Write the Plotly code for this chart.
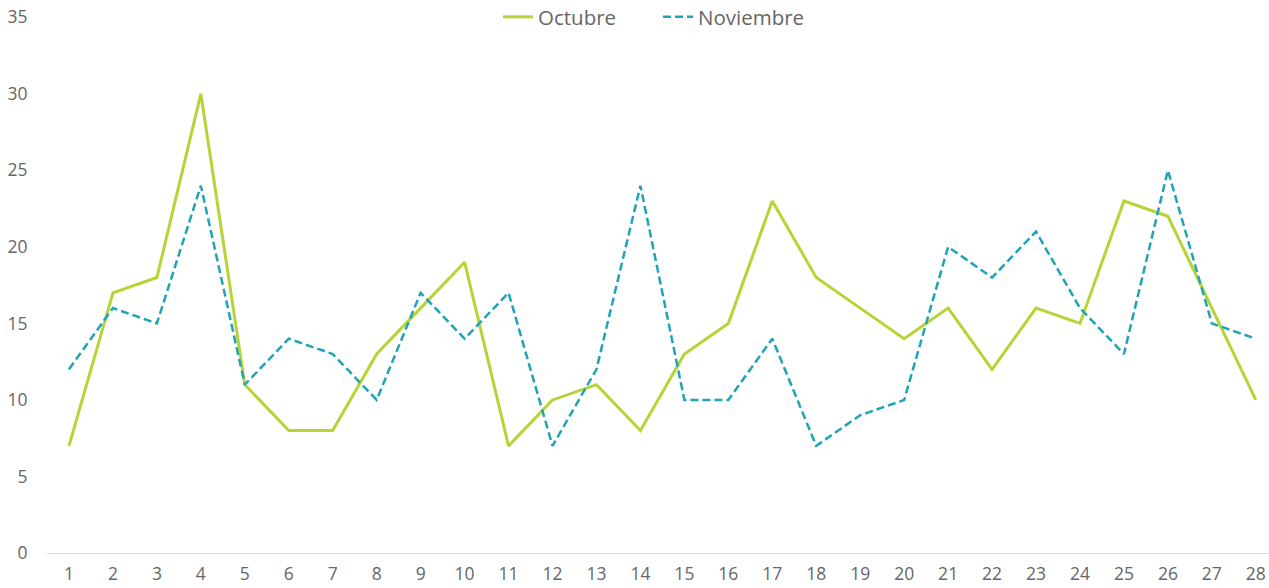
import plotly.graph_objects as go

days = list(range(1, 29))
octubre = [7, 17, 18, 30, 11, 8, 8, 13, 16, 19, 7, 10, 11, 8, 13, 15, 23, 18, 16, 14, 16, 12, 16, 15, 23, 22, 16, 10]
noviembre = [12, 16, 15, 24, 11, 14, 13, 10, 17, 14, 17, 7, 12, 24, 10, 10, 14, 7, 9, 10, 20, 18, 21, 16, 13, 25, 15, 14]
y_ticks = [0, 5, 10, 15, 20, 25, 30, 35]

font_family = "Open Sans, Lato, sans-serif"
text_color = "#666666"

fig = go.Figure()
fig.add_trace(go.Scatter(x=days, y=octubre, name="Octubre", mode="lines",
                         line=dict(color="#B7D436", width=3)))
fig.add_trace(go.Scatter(x=days, y=noviembre, name="Noviembre", mode="lines",
                         line=dict(color="#1FA3B6", width=2.5, dash="8px,4px")))

fig.update_layout(
    width=1269, height=588,
    margin=dict(l=47, r=0, t=17, b=35, autoexpand=False),
    paper_bgcolor="white", plot_bgcolor="white",
    font=dict(family=font_family, color=text_color, size=17),
    legend=dict(orientation="h", x=0.5, xanchor="center", y=1.0, yanchor="middle",
                font=dict(size=20.5, color=text_color), bgcolor="rgba(0,0,0,0)",
                entrywidth=115, itemwidth=30),
    showlegend=True,
)
fig.update_xaxes(range=[0.5, 28.3], tickmode="array", tickvals=days,
                 ticktext=[str(d) for d in days], showgrid=False, zeroline=False,
                 showline=False, ticks="outside", ticklen=5, tickcolor="rgba(0,0,0,0)",
                 automargin=False, tickfont=dict(size=17.5, color=text_color))
fig.update_yaxes(range=[0, 35.02], tickmode="array", tickvals=y_ticks,
                 showgrid=False, zeroline=True, zerolinecolor="#D9D9D9", zerolinewidth=1,
                 showline=False, ticks="outside", ticklen=15, tickcolor="rgba(0,0,0,0)",
                 automargin=False, tickfont=dict(size=17.5, color=text_color))

fig.write_html("out.html", config={"displayModeBar": False},
               post_script="document.body.style.margin='0';")
